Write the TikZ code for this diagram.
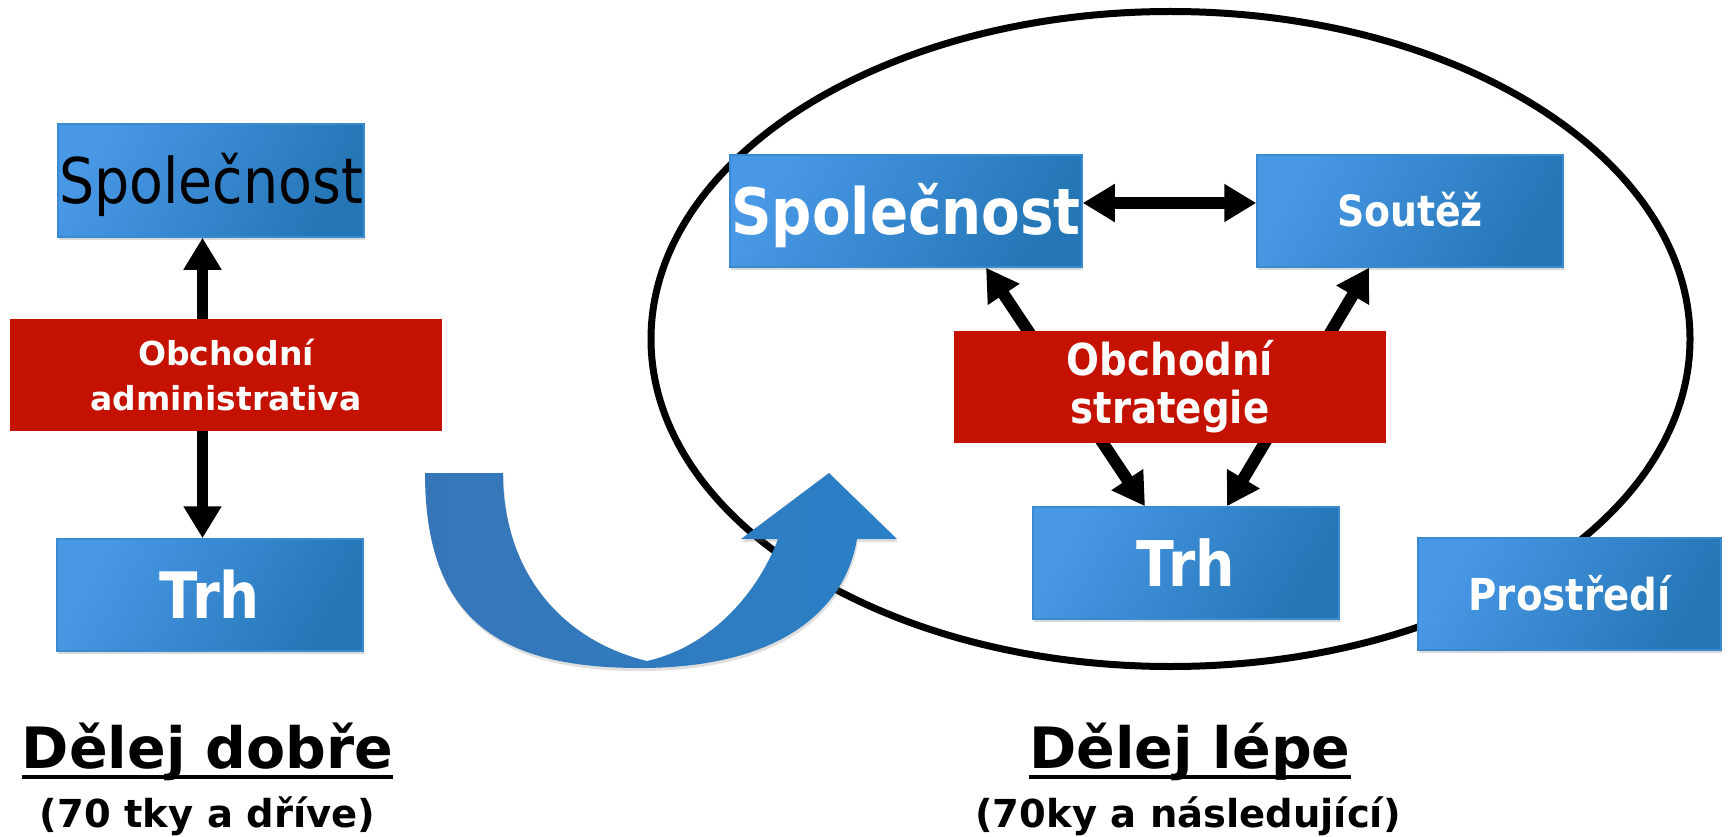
\documentclass[tikz,border=0pt]{standalone}
\usepackage{fontspec}
\setmainfont{DejaVu Sans}
\newfontfamily\tahoma[FakeStretch=0.88]{DejaVu Sans}
\usetikzlibrary{arrows.meta,shadows}
\definecolor{bxL}{RGB}{72,152,230}
\definecolor{bxR}{RGB}{36,118,182}
\definecolor{bxB}{RGB}{58,138,208}
\definecolor{redbx}{RGB}{197,18,0}
\definecolor{arL}{RGB}{54,118,184}
\definecolor{arR}{RGB}{42,128,198}
\begin{document}
\begin{tikzpicture}[x=1pt,y=-1pt,
  bluebox/.style={draw=bxB, line width=1.5pt, left color=bxL, right color=bxR, shading angle=60,
    inner sep=0pt, text=white,
    drop shadow={shadow xshift=1pt, shadow yshift=-3pt, opacity=0.3}},
  redbox/.style={fill=redbx, inner sep=0pt, text=white, align=center},
  dbl/.style={line width=11pt, {Triangle[length=32pt,width=36pt]}-{Triangle[length=32pt,width=36pt]}},
  title/.style={anchor=base, inner sep=0pt, font=\bfseries\fontsize{57}{57}\selectfont},
  subtitle/.style={anchor=base, inner sep=0pt, font=\bfseries\fontsize{38.5}{38.5}\selectfont},
  uline/.style={line width=4.5pt},
  ]
\useasboundingbox (0,0) rectangle (1729,837);

% big ellipse
\draw[line width=7pt] (1170.5,339) ellipse [x radius=519.5, y radius=327.5];

% left side
\node[bluebox, text=black, minimum width=306pt, minimum height=113pt,
  font=\tahoma\fontsize{63}{63}\selectfont, text height=46pt, text depth=0pt] (Lsp) at (211,180.5) {Společnost};
\node[bluebox, minimum width=306pt, minimum height=112pt,
  font=\tahoma\bfseries\fontsize{64}{64}\selectfont, text height=47pt, text depth=0pt] (Ltrh) at (210,595) {Trh};
\draw[dbl] ([xshift=-8.5pt]Lsp.south) -- ([xshift=-7.5pt]Ltrh.north);
\node[redbox, minimum width=432pt, minimum height=112pt,
  font=\bfseries\fontsize{33}{45}\selectfont] (Lred) at (226,375) {Obchodní\\administrativa};

% right side
\node[bluebox, minimum width=352pt, minimum height=112pt,
  font=\tahoma\bfseries\fontsize{64}{64}\selectfont, text height=47pt, text depth=0pt] (Rsp) at (906,211) {Společnost};
\node[bluebox, minimum width=306pt, minimum height=112pt,
  font=\tahoma\bfseries\fontsize{43}{43}\selectfont, text height=31pt, text depth=0pt] (Sou) at (1410,211) {Soutěž};
\node[bluebox, minimum width=306pt, minimum height=112pt,
  font=\tahoma\bfseries\fontsize{63}{63}\selectfont, text height=46pt, text depth=0pt] (Rtrh) at (1186,563) {Trh};
\node[bluebox, minimum width=303pt, minimum height=112pt,
  font=\tahoma\bfseries\fontsize{44}{44}\selectfont, text height=32pt, text depth=0pt] (Pro) at (1569.5,594) {Prostředí};

\draw[dbl, line width=12pt] ([yshift=8pt]Rsp.east) -- ([yshift=8pt]Sou.west);
\draw[dbl, line width=12pt] ([xshift=80pt]Rsp.south) -- ([xshift=-41pt]Rtrh.north);
\draw[dbl, line width=12pt] ([xshift=-41pt]Sou.south) -- ([xshift=41pt]Rtrh.north);

\node[redbox, minimum width=432pt, minimum height=112pt,
  font=\tahoma\bfseries\fontsize{44}{48}\selectfont] (Rred) at (1170,387) {Obchodní\\strategie};

% curved arrow
\shade[left color=arL, right color=arR, drop shadow={shadow xshift=1pt, shadow yshift=-3pt, opacity=0.25}]
  (425,473) .. controls (425,620) and (500,668) .. (640,668)
  .. controls (780,668) and (845,610) .. (857,539)
  -- (897,539) -- (829,473) -- (741,539) -- (778,539)
  .. controls (755,600) and (705,648) .. (647,661)
  .. controls (560,640) and (503,570) .. (503,473) -- cycle;

% titles
\node[title] (tL) at (207.5,768) {Dělej dobře};
\draw[uline] ([yshift=-9pt]tL.base west) -- ([yshift=-9pt]tL.base east);
\node[subtitle] (sL) at (207.5,827) {(70 tky a dříve)};
\node[title] (tR) at (1190,768) {Dělej lépe};
\draw[uline] ([yshift=-9pt]tR.base west) -- ([yshift=-9pt]tR.base east);
\node[subtitle] (sR) at (1188,827) {(70ky a následující)};
\end{tikzpicture}
\end{document}
